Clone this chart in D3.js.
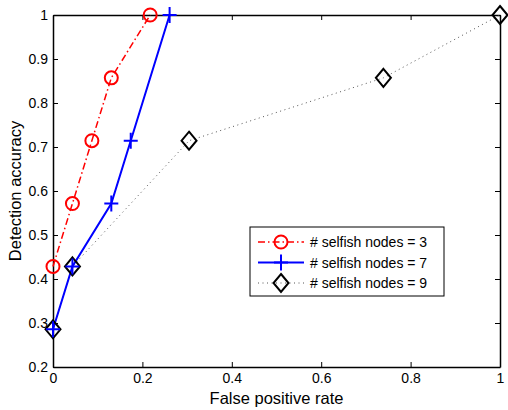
<!DOCTYPE html>
<html>
<head>
<meta charset="utf-8">
<script src="https://cdn.jsdelivr.net/npm/d3@7"></script>
<style>
body { margin:0; background:#fff; }
text { font-family: "Liberation Sans", Arial, sans-serif; }
</style>
</head>
<body>
<script>
// false positive rate / detection accuracy for each run
var fpr3 = [0, 1/23, 2/23, 3/23, 5/23];
var acc3 = [3/7, 4/7, 5/7, 6/7, 1];
var fpr7 = [0, 1/23, 3/23, 4/23, 6/23];
var acc7 = [2/7, 3/7, 4/7, 5/7, 1];
var fpr9 = [0, 1/23, 7/23, 17/23, 1];
var acc9 = [2/7, 3/7, 5/7, 6/7, 1];
var legendLabels = ["# selfish nodes = 3", "# selfish nodes = 7", "# selfish nodes = 9"];
var xTicks = [0, 0.2, 0.4, 0.6, 0.8, 1];
var yTicks = [0.2, 0.3, 0.4, 0.5, 0.6, 0.7, 0.8, 0.9, 1];

var width = 508, height = 410;
// (window.top is reserved, so plot edges get their own names)
var plotL = 53, plotR = 500, plotT = 15, plotB = 367;

var svg = d3.select("body").append("svg")
    .attr("width", width)
    .attr("height", height);

var x = d3.scaleLinear().domain([0, 1]).range([plotL, plotR]);
var y = d3.scaleLinear().domain([0.2, 1]).range([plotB, plotT]);

// axes, ticks pointing inwards on all four sides
var xAxisB = d3.axisBottom(x).tickValues(xTicks).tickSizeInner(-5).tickSizeOuter(0).tickPadding(6)
    .tickFormat(function(d){ return d == 0 || d == 1 ? d3.format("d")(d) : d3.format(".1f")(d); });
var xAxisT = d3.axisTop(x).tickValues(xTicks).tickSizeInner(-5).tickSizeOuter(0).tickFormat("");
var yAxisL = d3.axisLeft(y).tickValues(yTicks).tickSizeInner(-5).tickSizeOuter(0).tickPadding(5)
    .tickFormat(function(d){ return d == 1 ? "1" : d3.format(".1f")(d); });
var yAxisR = d3.axisRight(y).tickValues(yTicks).tickSizeInner(-5).tickSizeOuter(0).tickFormat("");

var styleAxis = function(g) {
  g.selectAll("path").attr("stroke", "#000").attr("stroke-width", 1.5);
  g.selectAll("line").attr("stroke", "#000");
  g.selectAll("text").attr("font-size", 14).attr("fill", "#000")
    .attr("font-family", "'Liberation Sans', Arial, sans-serif");
};

svg.append("g").attr("transform", "translate(0," + plotB + ")").call(xAxisB).call(styleAxis);
svg.append("g").attr("transform", "translate(0," + plotT + ")").call(xAxisT).call(styleAxis);
svg.append("g").attr("transform", "translate(" + plotL + ",0)").call(yAxisL).call(styleAxis);
svg.append("g").attr("transform", "translate(" + plotR + ",0)").call(yAxisR).call(styleAxis);

svg.append("text")
  .attr("x", (plotL + plotR) / 2).attr("y", 404)
  .attr("text-anchor", "middle").attr("font-size", 16.5)
  .text("False positive rate");

svg.append("text")
  .attr("transform", "translate(21," + (plotT + plotB) / 2 + ") rotate(-90)")
  .attr("text-anchor", "middle").attr("font-size", 16.5)
  .text("Detection accuracy");

var series = [
  {xs: fpr3, ys: acc3, color: "#ff0000", width: 1.5, dash: "7,3,1.5,3", marker: "circle"},
  {xs: fpr7, ys: acc7, color: "#0000ff", width: 2, dash: null, marker: "plus"},
  {xs: fpr9, ys: acc9, color: "#000000", width: 1, dash: "1,3.5", marker: "diamond"}
];

var line = d3.line().x(function(d){ return x(d[0]); }).y(function(d){ return y(d[1]); });

var drawMarker = function(g, kind, color, cx, cy) {
  if (kind == "circle") {
    g.append("circle").attr("cx", cx).attr("cy", cy).attr("r", 6.5)
      .attr("fill", "none").attr("stroke", color).attr("stroke-width", 2);
  } else if (kind == "plus") {
    g.append("path").attr("d", "M" + (cx - 7) + "," + cy + "H" + (cx + 7) + "M" + cx + "," + (cy - 8) + "V" + (cy + 8))
      .attr("fill", "none").attr("stroke", color).attr("stroke-width", 2);
  } else {
    g.append("path").attr("d", "M" + cx + "," + (cy - 9) + "L" + (cx + 7.5) + "," + cy + "L" + cx + "," + (cy + 9) + "L" + (cx - 7.5) + "," + cy + "Z")
      .attr("fill", "none").attr("stroke", color).attr("stroke-width", 2);
  }
};

// draw last series first so red/blue sit on top like the original
var plot = svg.append("g");
series.slice().reverse().forEach(function(s) {
  var pts = s.xs.map(function(v, i){ return [v, s.ys[i]]; });
  var path = plot.append("path").datum(pts)
    .attr("d", line).attr("fill", "none")
    .attr("stroke", s.marker == "diamond" ? "#555" : s.color)
    .attr("stroke-width", s.width);
  if (s.dash) path.attr("stroke-dasharray", s.dash);
});
series.slice().reverse().forEach(function(s) {
  var g = plot.append("g");
  s.xs.forEach(function(v, i) {
    drawMarker(g, s.marker, s.color, x(v), y(s.ys[i]));
  });
});

// legend
var lg = svg.append("g");
lg.append("rect").attr("x", 250).attr("y", 227).attr("width", 194).attr("height", 69)
  .attr("fill", "#fff").attr("stroke", "#000").attr("stroke-width", 1);
series.forEach(function(s, i) {
  var ly = 242 + i * 20.5;
  var p = lg.append("path").attr("d", "M258," + ly + "H304").attr("fill", "none")
    .attr("stroke", s.marker == "diamond" ? "#555" : s.color).attr("stroke-width", s.width);
  if (s.dash) p.attr("stroke-dasharray", s.dash);
  drawMarker(lg, s.marker, s.color, 281, ly);
  lg.append("text").attr("x", 310).attr("y", ly + 5).attr("font-size", 14).text(legendLabels[i]);
});
</script>
</body>
</html>
